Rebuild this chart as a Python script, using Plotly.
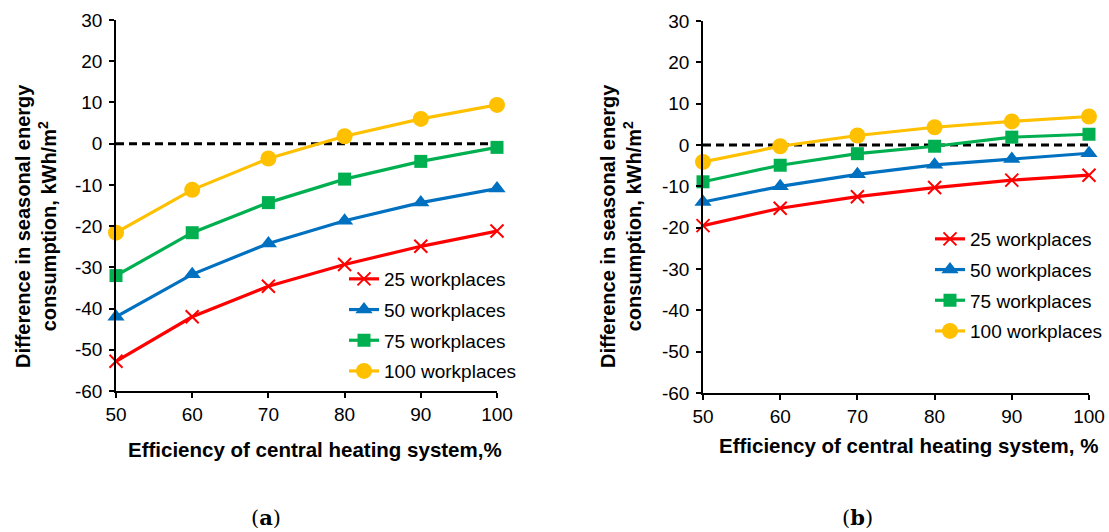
import plotly.graph_objects as go

W, H = 1109, 532

efficiency = [50, 60, 70, 80, 90, 100]
series_names = ["25 workplaces", "50 workplaces", "75 workplaces", "100 workplaces"]

# Panel (a)
a_25 = [-52.8, -42.0, -34.6, -29.3, -24.9, -21.2]
a_50 = [-42.0, -31.7, -24.2, -18.7, -14.3, -10.9]
a_75 = [-32.0, -21.6, -14.3, -8.6, -4.3, -0.9]
a_100 = [-21.6, -11.2, -3.6, 1.8, 6.0, 9.4]

# Panel (b)
b_25 = [-19.5, -15.3, -12.5, -10.3, -8.5, -7.3]
b_50 = [-13.8, -10.0, -7.1, -4.8, -3.4, -2.0]
b_75 = [-8.9, -4.9, -2.1, -0.3, 1.9, 2.6]
b_100 = [-4.1, -0.3, 2.3, 4.3, 5.7, 6.9]

zero_x = [50, 100]
zero_y = [0, 0]

y_ticks = [30, 20, 10, 0, -10, -20, -30, -40, -50, -60]
y_ticktext = ["30", "20", "10", "0", "-10", "-20", "-30", "-40", "-50", "-60"]
x_ticks = [50, 60, 70, 80, 90, 100]
x_ticktext = ["50", "60", "70", "80", "90", "100"]

colors = ["#FF0000", "#0070C0", "#00B050", "#FFC000"]
symbols = ["x-thin", "triangle-up", "square", "circle"]
sizes = [13, 15, 13, 16]

FONT = "Liberation Sans, Arial, sans-serif"

fig = go.Figure()


def px_x(p):
    return p / W


def px_y(p):
    return 1 - p / H


def add_panel(xa, ya, legend, data):
    fig.add_trace(go.Scatter(
        x=zero_x, y=zero_y, mode="lines", xaxis=xa, yaxis=ya,
        line=dict(color="black", width=3, dash="8px,5px"),
        showlegend=False, hoverinfo="skip", cliponaxis=False))
    for i, (name, vals) in enumerate(zip(series_names, data)):
        marker = dict(symbol=symbols[i], size=sizes[i], color=colors[i])
        if symbols[i] == "x-thin":
            marker["line"] = dict(color=colors[i], width=2)
        fig.add_trace(go.Scatter(
            x=efficiency, y=vals, name=name, mode="lines+markers",
            xaxis=xa, yaxis=ya, legend=legend, legendgroup=legend + name,
            line=dict(color=colors[i], width=3.2),
            marker=marker, cliponaxis=False))


add_panel("x", "y", "legend", [a_25, a_50, a_75, a_100])
add_panel("x2", "y2", "legend2", [b_25, b_50, b_75, b_100])

axis_common = dict(
    showgrid=False, zeroline=False, showline=True, linecolor="black",
    linewidth=1.5, ticks="outside", ticklen=5, tickwidth=1.5,
    tickcolor="black", automargin=False,
    tickfont=dict(family=FONT, size=19, color="black"),
)

fig.update_layout(
    width=W, height=H,
    margin=dict(l=0, r=0, t=0, b=0),
    paper_bgcolor="white", plot_bgcolor="white",
    font=dict(family=FONT, color="black"),
    xaxis=dict(domain=[px_x(116), px_x(497)], range=[50, 100],
               tickvals=x_ticks, ticktext=x_ticktext, anchor="y", **axis_common),
    yaxis=dict(domain=[px_y(391), px_y(20)], range=[-60, 30], ticklabelstandoff=3,
               tickvals=y_ticks, ticktext=y_ticktext, anchor="x", **axis_common),
    xaxis2=dict(domain=[px_x(703), px_x(1089)], range=[50, 100],
                tickvals=x_ticks, ticktext=x_ticktext, anchor="y2", **axis_common),
    yaxis2=dict(domain=[px_y(393), px_y(21)], range=[-60, 30], ticklabelstandoff=3,
                tickvals=y_ticks, ticktext=y_ticktext, anchor="x2", **axis_common),
    legend=dict(x=px_x(385 - 41), y=px_y(260), xanchor="left", yanchor="top",
                bgcolor="rgba(0,0,0,0)", font=dict(family=FONT, size=19),
                tracegroupgap=3, traceorder="grouped"),
    legend2=dict(x=px_x(971 - 41), y=px_y(220), xanchor="left", yanchor="top",
                 bgcolor="rgba(0,0,0,0)", font=dict(family=FONT, size=19),
                 tracegroupgap=3, traceorder="grouped"),
)

ytitle = "<b>Difference in seasonal energy</b><br><b>consumption, kWh/m<sup>2</sup></b>"
title_font = dict(family=FONT, size=20, color="black")
for xc in (36, 621):
    fig.add_annotation(xref="paper", yref="paper", showarrow=False,
                       x=px_x(xc), y=px_y(226), xanchor="center", yanchor="middle",
                       text=ytitle, textangle=-90, font=title_font)

for txt, xc, yc in (("Efficiency of central heating system,%", 315, 449),
                    ("Efficiency of central heating system, %", 908, 445)):
    fig.add_annotation(xref="paper", yref="paper", showarrow=False,
                       x=px_x(xc), y=px_y(yc), xanchor="center", yanchor="middle",
                       text="<b>" + txt + "</b>", font=dict(family=FONT, size=20.5, color="black"))

for lab, xc in (("a", 266), ("b", 857)):
    fig.add_annotation(xref="paper", yref="paper", showarrow=False,
                       x=px_x(xc), y=px_y(517), xanchor="center", yanchor="middle",
                       text="(<b>" + lab + "</b>)",
                       font=dict(family="DejaVu Serif, Liberation Serif, serif", size=21, color="black"))

fig.write_html(
    "out.html",
    config={"displayModeBar": False},
    post_script="document.body.style.margin='0';document.body.style.overflow='hidden';",
)
